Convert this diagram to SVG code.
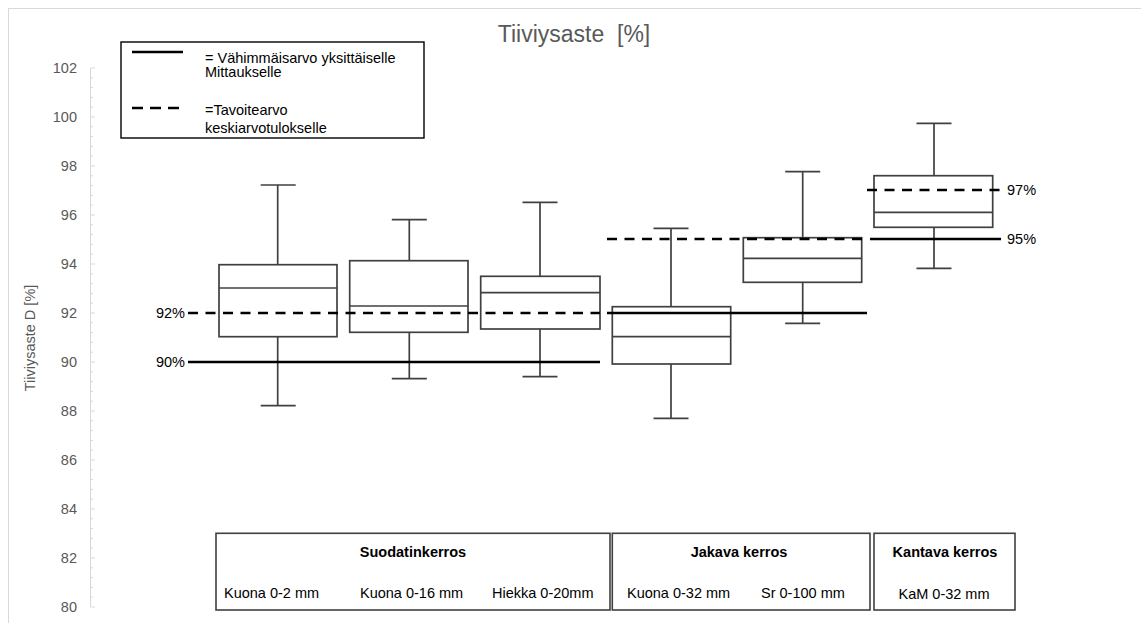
<svg xmlns="http://www.w3.org/2000/svg" width="1141" height="623" viewBox="0 0 1141 623">
  <style>
    text { font-family: "Liberation Sans", Arial, sans-serif; font-size: 14.5px; }
    .title { font-size: 23px; fill: #595959; }
    .tick { fill: #595959; text-anchor: end; }
    .axis { stroke: #d9d9d9; stroke-width: 1; fill: none; }
    .box { fill: #ffffff; stroke: #404040; stroke-width: 1.7; }
    .wh { stroke: #404040; stroke-width: 1.7; fill: none; }
    .ref { stroke: #000000; stroke-width: 2.6; fill: none; }
    .dash { stroke-dasharray: 10 7.5; }
    .cat { fill: #ffffff; stroke: #404040; stroke-width: 1.6; }
    .bold { font-weight: bold; text-anchor: middle; }
    .mid { text-anchor: middle; }
  </style>

  <!-- chart frame -->
  <rect x="8.5" y="8.5" width="1200" height="700" fill="#ffffff" stroke="#d9d9d9" stroke-width="1"/>

  <text class="title" x="574" y="42" text-anchor="middle">Tiiviysaste&#160; [%]</text>

  <!-- value axis: y = 68 + (102 - v) * 24.5 -->
  <g id="y-axis">
    <line class="axis" x1="90.5" y1="68" x2="90.5" y2="607"/>
    <path class="axis" d="M90.5 68H95M90.5 117H95M90.5 166H95M90.5 215H95M90.5 264H95M90.5 313H95M90.5 362H95M90.5 411H95M90.5 460H95M90.5 509H95M90.5 558H95M90.5 607H95"/>
    <path class="axis" d="M90.5 77.8H93M90.5 87.6H93M90.5 97.4H93M90.5 107.2H93
      M90.5 126.8H93M90.5 136.6H93M90.5 146.4H93M90.5 156.2H93
      M90.5 175.8H93M90.5 185.6H93M90.5 195.4H93M90.5 205.2H93
      M90.5 224.8H93M90.5 234.6H93M90.5 244.4H93M90.5 254.2H93
      M90.5 273.8H93M90.5 283.6H93M90.5 293.4H93M90.5 303.2H93
      M90.5 322.8H93M90.5 332.6H93M90.5 342.4H93M90.5 352.2H93
      M90.5 371.8H93M90.5 381.6H93M90.5 391.4H93M90.5 401.2H93
      M90.5 420.8H93M90.5 430.6H93M90.5 440.4H93M90.5 450.2H93
      M90.5 469.8H93M90.5 479.6H93M90.5 489.4H93M90.5 499.2H93
      M90.5 518.8H93M90.5 528.6H93M90.5 538.4H93M90.5 548.2H93
      M90.5 567.8H93M90.5 577.6H93M90.5 587.4H93M90.5 597.2H93"/>
    <g>
      <text class="tick" x="77" y="73">102</text>
      <text class="tick" x="77" y="122">100</text>
      <text class="tick" x="77" y="171">98</text>
      <text class="tick" x="77" y="220">96</text>
      <text class="tick" x="77" y="269">94</text>
      <text class="tick" x="77" y="318">92</text>
      <text class="tick" x="77" y="367">90</text>
      <text class="tick" x="77" y="416">88</text>
      <text class="tick" x="77" y="465">86</text>
      <text class="tick" x="77" y="514">84</text>
      <text class="tick" x="77" y="563">82</text>
      <text class="tick" x="77" y="612">80</text>
    </g>
    <text x="35" y="338" fill="#595959" text-anchor="middle" transform="rotate(-90 35 338)">Tiiviysaste D [%]</text>
  </g>

  <!-- legend -->
  <g id="legend">
    <rect x="121" y="42" width="303" height="96" fill="#ffffff" stroke="#000000" stroke-width="1.4"/>
    <line class="ref" x1="132" y1="52" x2="183" y2="52"/>
    <line class="ref" x1="132" y1="108" x2="180" y2="108" stroke-dasharray="11 7"/>
    <text x="205" y="63">= Vähimmäisarvo yksittäiselle</text>
    <text x="205" y="77">Mittaukselle</text>
    <text x="205" y="115">=Tavoitearvo</text>
    <text x="205" y="133">keskiarvotulokselle</text>
  </g>

  <!-- box plots -->
  <g id="box-kuona-0-2">
    <path class="wh" d="M277.7 185V264.7M260.7 185H295.7M277.7 336.7V405.7M260.7 405.7H295.7"/>
    <rect class="box" x="219" y="264.7" width="118" height="72"/>
    <line class="wh" x1="219" y1="288" x2="337" y2="288"/>
  </g>
  <g id="box-kuona-0-16">
    <path class="wh" d="M409.3 219.7V260.7M391.8 219.7H426.8M409.3 332.3V378.7M391.8 378.7H426.8"/>
    <rect class="box" x="349.7" y="260.7" width="118.3" height="71.6"/>
    <line class="wh" x1="349.7" y1="306" x2="468" y2="306"/>
  </g>
  <g id="box-hiekka-0-20">
    <path class="wh" d="M540 202.3V276.3M522.5 202.3H557.5M540 329V376.7M522.5 376.7H557.5"/>
    <rect class="box" x="480.7" y="276.3" width="119.3" height="52.7"/>
    <line class="wh" x1="480.7" y1="292.7" x2="600" y2="292.7"/>
  </g>
  <g id="box-kuona-0-32">
    <path class="wh" d="M671 228.3V306.7M653.5 228.3H688.5M671 364V418.3M653.5 418.3H688.5"/>
    <rect class="box" x="612.3" y="306.7" width="118.4" height="57.3"/>
    <line class="wh" x1="612.3" y1="336.7" x2="730.7" y2="336.7"/>
  </g>
  <g id="box-sr-0-100">
    <path class="wh" d="M802.7 171.7V237.7M785.2 171.7H820.2M802.7 282.3V323.3M785.2 323.3H820.2"/>
    <rect class="box" x="743.3" y="237.7" width="118.4" height="44.6"/>
    <line class="wh" x1="743.3" y1="258.3" x2="861.7" y2="258.3"/>
  </g>
  <g id="box-kam-0-32">
    <path class="wh" d="M934 123.3V175.7M916.5 123.3H951.5M934 227.3V268.3M916.5 268.3H951.5"/>
    <rect class="box" x="874" y="175.7" width="118.7" height="51.6"/>
    <line class="wh" x1="874" y1="212.3" x2="992.7" y2="212.3"/>
  </g>

  <!-- requirement lines -->
  <g id="requirement-lines">
    <line class="ref" x1="188" y1="362" x2="600" y2="362"/>
    <line class="ref dash" x1="188" y1="313" x2="600" y2="313"/>
    <line class="ref" x1="607" y1="313" x2="867" y2="313"/>
    <line class="ref dash" x1="607" y1="239" x2="862" y2="239"/>
    <line class="ref" x1="870" y1="239" x2="1001" y2="239"/>
    <line class="ref dash" x1="867" y1="190" x2="1002" y2="190"/>
    <text x="185" y="318" text-anchor="end">92%</text>
    <text x="185" y="367" text-anchor="end">90%</text>
    <text x="1007" y="195">97%</text>
    <text x="1007" y="244">95%</text>
  </g>

  <!-- layer categories -->
  <g id="cat-suodatinkerros">
    <rect class="cat" x="216" y="533.3" width="394" height="76.7"/>
    <text class="bold" x="413" y="557">Suodatinkerros</text>
    <text x="224" y="598">Kuona 0-2 mm</text>
    <text x="360" y="598">Kuona 0-16 mm</text>
    <text x="492" y="598">Hiekka 0-20mm</text>
  </g>
  <g id="cat-jakava">
    <rect class="cat" x="612.3" y="533.3" width="257.7" height="76.7"/>
    <text class="bold" x="739" y="557">Jakava kerros</text>
    <text x="627" y="598">Kuona 0-32 mm</text>
    <text x="761" y="598">Sr 0-100 mm</text>
  </g>
  <g id="cat-kantava">
    <rect class="cat" x="874" y="533.3" width="141" height="76.7"/>
    <text class="bold" x="945" y="557">Kantava kerros</text>
    <text class="mid" x="944" y="599">KaM 0-32 mm</text>
  </g>
</svg>
